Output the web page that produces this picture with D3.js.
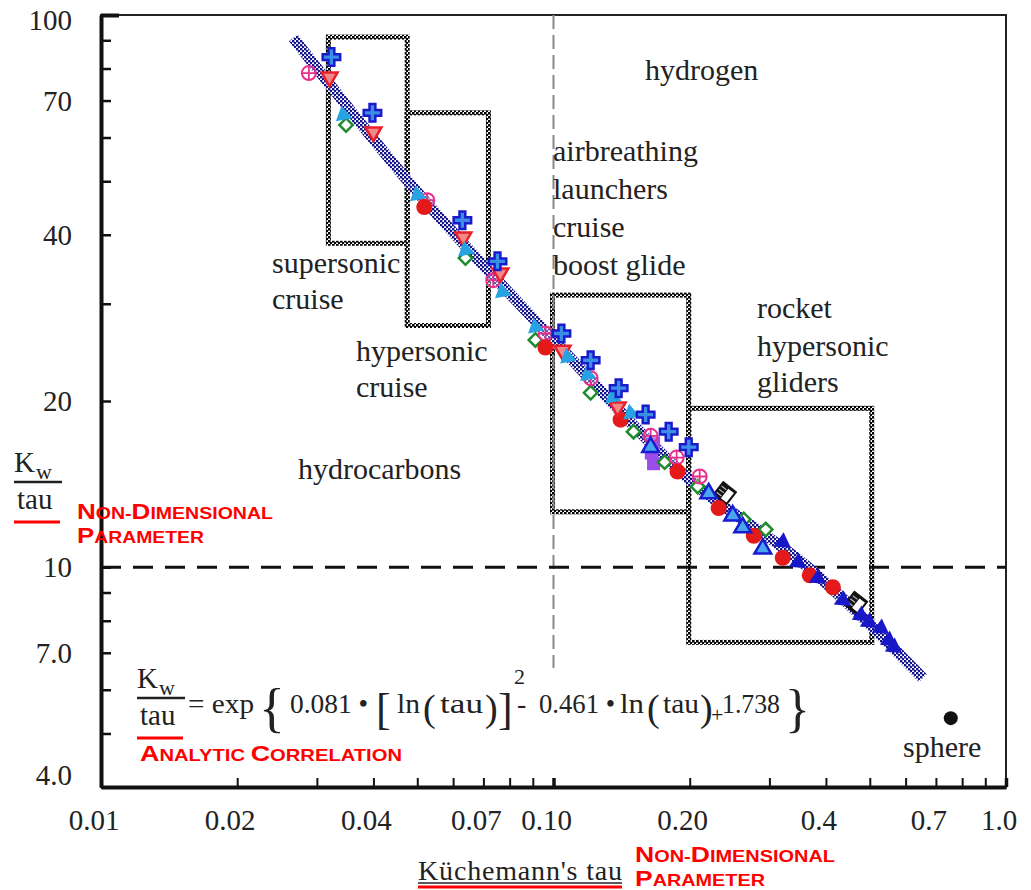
<!DOCTYPE html>
<html>
<head>
<meta charset="UTF-8">
<title>Kw/tau vs Küchemann's tau</title>
<script src="https://d3js.org/d3.v7.min.js"></script>
<style>
  body { margin: 0; background: #fff; }
  svg { display: block; }
  .serif { font-family: "Liberation Serif", "Times New Roman", serif; fill: #222; }
  .red { font-family: "Liberation Sans", Arial, sans-serif; font-weight: bold; fill: #f00; }
</style>
</head>
<body>
<div id="chart"></div>
<script>
// axis ticks
const xMinor = [0.01,0.02,0.03,0.04,0.05,0.06,0.07,0.08,0.09,0.1,0.2,0.3,0.4,0.5,0.6,0.7,0.8,0.9,1.0];
const xTickVals = [0.01,0.02,0.04,0.07,0.1,0.2,0.4,0.7,1.0];
const xTickLabels = ["0.01","0.02","0.04","0.07","0.10","0.20","0.4","0.7","1.0"];
const yMinor = [4,5,6,7,8,9,10,20,30,40,50,60,70,80,90,100];
const yTickVals = [100,70,40,20,10,7,4];
const yTickLabels = ["100","70","40","20","10","7.0","4.0"];

// correlation band [tau, Kw/tau]
const corrLine = [[0.0266,90.9],[0.0475,50.2],[0.1,25.8],[0.2,14.4],[0.365,10.0],[0.655,6.3]];

// vehicle data [tau, Kw/tau]
const blueCross = [[0.0323,83.9],[0.0398,66.5],[0.0629,42.5],[0.0752,35.8],[0.1041,26.5],[0.1208,23.7],[0.1393,21.1],[0.1598,18.9],[0.1797,17.6],[0.199,16.5]];
const pinkTriDown = [[0.032,77.2],[0.040,61.4],[0.0632,39.6],[0.0763,34.1],[0.1047,24.7],[0.1386,19.5]];
const pinkCirclePlus = [[0.0288,78.5],[0.0526,46.2],[0.0736,33.1],[0.096,26.5],[0.1208,22.0],[0.1639,17.3],[0.1871,15.8],[0.2104,14.6]];
const greenDiamond = [[0.0348,63.2],[0.0639,36.3],[0.0912,25.8],[0.1208,20.7],[0.1503,17.6],[0.176,15.5],[0.2083,14.0],[0.2633,12.2],[0.2944,11.7]];
const cyanTri = [[0.0343,65.9],[0.05,47.2],[0.0639,37.5],[0.0771,31.5],[0.0912,27.2],[0.1074,24.0],[0.1189,22.3],[0.1351,20.3],[0.1481,19.0]];
const redCircle = [[0.0518,44.9],[0.096,25.0],[0.1407,18.5],[0.188,14.9],[0.2317,12.8],[0.2771,11.4],[0.3211,10.4],[0.3684,9.67],[0.4144,9.2]];
const purpleSquare = [[0.1664,16.8],[0.1645,16.1],[0.1664,15.4]];
const blueTriUp = [[0.1639,16.5],[0.2203,13.6],[0.2489,12.4],[0.2619,11.8],[0.2901,10.8]];
const navyTri = [[0.3211,11.1],[0.3467,10.2],[0.3837,9.55],[0.4359,8.71],[0.4777,8.18],[0.4976,7.95],[0.5292,7.75],[0.5511,7.37],[0.5652,7.16]];
const blackSquare = [[0.2389,13.6],[0.4657,8.61]];
const sphere = [[0.755,5.33]];

// regions [tauMin, tauMax, kMin, kMax]
const regionBoxes = [[0.0318,0.0475,38.6,91.2],[0.0475,0.0718,27.4,66.5],[0.0995,0.199,12.6,31.1],[0.199,0.505,7.31,19.4]];

const W = 1031, H = 890;
const svg = d3.select("#chart").append("svg").attr("width", W).attr("height", H);

const x = d3.scaleLog().domain([0.01, 1]).range([101, 1006]);
const y = d3.scaleLog().domain([4, 100]).range([787, 15]);

const defs = svg.append("defs");
const hb = defs.append("pattern").attr("id", "hatchBlue").attr("patternUnits", "userSpaceOnUse").attr("width", 4).attr("height", 4);
hb.append("rect").attr("width", 4).attr("height", 4).attr("fill", "#fff");
hb.append("rect").attr("width", 2.4).attr("height", 2.4).attr("fill", "#14148c");
hb.append("rect").attr("x", 2).attr("y", 2).attr("width", 2.4).attr("height", 2.4).attr("fill", "#14148c");
const cb = defs.append("pattern").attr("id", "checkBlack").attr("patternUnits", "userSpaceOnUse").attr("width", 4).attr("height", 4);
cb.append("rect").attr("width", 4).attr("height", 4).attr("fill", "#fff");
cb.append("rect").attr("width", 2.6).attr("height", 2.6).attr("fill", "#000");
cb.append("rect").attr("x", 2).attr("y", 2).attr("width", 2.6).attr("height", 2.6).attr("fill", "#000");

// frame
svg.append("rect").attr("x", 101).attr("y", 15).attr("width", 905).attr("height", 772)
  .attr("fill", "none").attr("stroke", "#222").attr("stroke-width", 2);

// regions
svg.append("g").selectAll("rect").data(regionBoxes).join("rect")
  .attr("x", d => x(d[0])).attr("y", d => y(d[3]))
  .attr("width", d => x(d[1]) - x(d[0])).attr("height", d => y(d[2]) - y(d[3]))
  .attr("fill", "none").attr("stroke", "url(#checkBlack)").attr("stroke-width", 5);

// reference lines
svg.append("line").attr("x1", x(0.1)).attr("x2", x(0.1)).attr("y1", 15).attr("y2", 668)
  .attr("stroke", "#888").attr("stroke-width", 2).attr("stroke-dasharray", "14,6");
svg.append("line").attr("x1", 101).attr("x2", 1006).attr("y1", y(10)).attr("y2", y(10))
  .attr("stroke", "#111").attr("stroke-width", 3).attr("stroke-dasharray", "20,12");

// correlation band
svg.append("path").datum(corrLine)
  .attr("d", d3.line().x(d => x(d[0])).y(d => y(d[1])).curve(d3.curveMonotoneX))
  .attr("fill", "none").attr("stroke", "url(#hatchBlue)").attr("stroke-width", 11);

// axes (ticks point inwards)
svg.append("g").attr("transform", "translate(101,0)")
  .call(d3.axisLeft(y).tickValues(yMinor).tickSizeInner(-10).tickSizeOuter(0).tickFormat(""))
  .call(g => g.select(".domain").attr("stroke", "#111").attr("stroke-width", 4))
  .call(g => g.selectAll(".tick line").attr("stroke", "#111").attr("stroke-width", d => d === 100 ? 4 : 2.5)
    .attr("x2", d => d === 100 ? 18 : 10));
svg.append("g").attr("transform", "translate(0,787)")
  .call(d3.axisBottom(x).tickValues(xMinor).tickSizeInner(-9).tickSizeOuter(0).tickFormat(""))
  .call(g => g.select(".domain").attr("stroke", "#111").attr("stroke-width", 4))
  .call(g => g.selectAll(".tick line").attr("stroke", "#111").attr("stroke-width", d => d === 0.1 || d === 1 ? 3.5 : 2));

// tick labels
svg.append("g").selectAll("text").data(yTickVals).join("text")
  .attr("class", "serif").attr("font-size", 29).attr("text-anchor", "end")
  .attr("x", 72).attr("y", d => y(d) + (d === 100 ? 5 : d === 4 ? -12 : 0)).attr("dy", "0.35em")
  .text((d, i) => yTickLabels[i]);
svg.append("g").selectAll("text").data(xTickVals).join("text")
  .attr("class", "serif").attr("font-size", 29).attr("text-anchor", "middle")
  .attr("x", d => x(d) - 7).attr("y", 830)
  .text((d, i) => xTickLabels[i]);

// markers
function symbols(data, type, size, rot, fill, stroke, sw) {
  svg.append("g").selectAll("path").data(data).join("path")
    .attr("d", d3.symbol(type, size))
    .attr("transform", d => `translate(${x(d[0])},${y(d[1])}) rotate(${rot})`)
    .attr("fill", fill).attr("stroke", stroke).attr("stroke-width", sw);
}

const bs = svg.append("g").selectAll("g").data(blackSquare).join("g")
  .attr("transform", d => `translate(${x(d[0])},${y(d[1])}) rotate(38)`);
bs.append("rect").attr("x", -9).attr("y", -9).attr("width", 18).attr("height", 18).attr("fill", "#111");
bs.append("rect").attr("x", 0).attr("y", -6).attr("width", 7).attr("height", 12).attr("fill", "#fff");
[-4, 0, 4].forEach(o => bs.append("line").attr("x1", -7).attr("x2", -1).attr("y1", o).attr("y2", o)
  .attr("stroke", "#bbb").attr("stroke-width", 1.2));

symbols(purpleSquare, d3.symbolSquare, 170, 0, "#9b4dea", "none", 0);
symbols(greenDiamond, d3.symbolSquare, 90, 45, "#fff", "#1e8c2e", 2.5);

const cp = svg.append("g").selectAll("g").data(pinkCirclePlus).join("g")
  .attr("transform", d => `translate(${x(d[0])},${y(d[1])})`);
cp.append("circle").attr("r", 7).attr("fill", "#fff").attr("fill-opacity", 0.3).attr("stroke", "#e8308a").attr("stroke-width", 2);
cp.append("path").attr("d", "M-7,0H7M0,-7V7").attr("stroke", "#e8308a").attr("stroke-width", 1.8);

svg.append("g").selectAll("circle").data(redCircle).join("circle")
  .attr("cx", d => x(d[0])).attr("cy", d => y(d[1])).attr("r", 8).attr("fill", "#e41a1a");
symbols(pinkTriDown, d3.symbolTriangle, 110, 180, "#f08a8a", "#e8202a", 2.5);
symbols(cyanTri, d3.symbolTriangle, 120, 110, "#27a3e3", "none", 0);
symbols(blueTriUp, d3.symbolTriangle, 120, 0, "#48a6ee", "#1a1ad0", 2.5);
symbols(navyTri, d3.symbolTriangle, 130, 125, "#1818c8", "none", 0);
symbols(blueCross, d3.symbolCross, 170, 0, "#3a8ee6", "#1a1acb", 2.5);

svg.append("g").selectAll("circle").data(sphere).join("circle")
  .attr("cx", d => x(d[0])).attr("cy", d => y(d[1])).attr("r", 7).attr("fill", "#111");

// region labels
const labels = [
  ["hydrogen", 645, 80], ["airbreathing", 553, 161], ["launchers", 553, 199], ["cruise", 553, 237],
  ["boost glide", 553, 275], ["supersonic", 272, 273], ["cruise", 272, 309], ["hypersonic", 356, 361],
  ["cruise", 356, 397], ["rocket", 757, 318], ["hypersonic", 757, 356], ["gliders", 757, 392],
  ["hydrocarbons", 298, 479], ["sphere", 903, 757]
];
svg.append("g").selectAll("text").data(labels).join("text")
  .attr("class", "serif").attr("font-size", 30)
  .attr("x", d => d[1]).attr("y", d => d[2]).text(d => d[0]);

// Kw / tau fractions
function fraction(g, x0, yb, w) {
  g.append("text").attr("class", "serif").attr("font-size", 29).attr("x", x0).attr("y", yb).text("K");
  g.append("text").attr("class", "serif").attr("font-size", 22).attr("x", x0 + 22).attr("y", yb + 7).text("w");
  g.append("line").attr("x1", x0).attr("x2", x0 + w).attr("y1", yb + 10).attr("y2", yb + 10).attr("stroke", "#222").attr("stroke-width", 2.5);
  g.append("text").attr("class", "serif").attr("font-size", 29).attr("x", x0 + 3).attr("y", yb + 37).text("tau");
  g.append("line").attr("x1", x0).attr("x2", x0 + w - 2).attr("y1", yb + 50).attr("y2", yb + 50).attr("stroke", "#f00").attr("stroke-width", 3);
}
fraction(svg, 14, 472, 48);
fraction(svg, 137, 688, 48);

// red small-caps notes
function redNote(xp, yp, words, width) {
  const t = svg.append("text").attr("class", "red").attr("x", xp).attr("y", yp)
    .attr("textLength", width).attr("lengthAdjust", "spacingAndGlyphs");
  words.forEach(w => {
    t.append("tspan").attr("font-size", 22).text(w[0]);
    t.append("tspan").attr("font-size", 16.5).text(w.slice(1).toUpperCase());
  });
}
redNote(77, 519, ["Non-", "Dimensional"], 196);
redNote(77, 543, ["Parameter"], 127);
redNote(140, 761, ["Analytic ", "Correlation"], 262);
redNote(635, 862, ["Non-", "Dimensional"], 200);
redNote(635, 886, ["Parameter"], 130);

// formula pieces [text, x, baseline, size, width]
const parts = [
  ["= exp", 188, 713, 28, 66], ["{", 259, 726, 54, 0], ["0.081 •", 290, 713, 28, 78], ["[", 376, 724, 44, 0],
  ["ln", 397, 713, 28, 23], ["(", 423, 721, 38, 0], ["tau", 440, 713, 28, 43], [")", 485, 721, 38, 0],
  ["]", 498, 724, 44, 0], ["2", 514, 684, 22, 0], ["-", 517, 713, 28, 0], ["0.461 •", 539, 713, 28, 76],
  ["ln", 620, 713, 28, 24], ["(", 647, 721, 38, 0], ["tau", 663, 713, 28, 36], [")", 700, 721, 38, 0],
  ["+", 711, 722, 22, 0], ["1.738", 722, 713, 28, 58], ["}", 785, 726, 52, 0]
];
svg.append("g").selectAll("text").data(parts).join("text")
  .attr("class", "serif").attr("x", d => d[1]).attr("y", d => d[2]).attr("font-size", d => d[3])
  .each(function(d) { if (d[4]) d3.select(this).attr("textLength", d[4]).attr("lengthAdjust", "spacingAndGlyphs"); })
  .text(d => d[0]);

// x axis label
svg.append("text").attr("class", "serif").attr("font-size", 28).attr("x", 418).attr("y", 880)
  .attr("textLength", 204).text("Küchemann's tau");
svg.append("line").attr("x1", 418).attr("x2", 622).attr("y1", 883).attr("y2", 883).attr("stroke", "#222").attr("stroke-width", 1.5);
svg.append("line").attr("x1", 418).attr("x2", 622).attr("y1", 887).attr("y2", 887).attr("stroke", "#f00").attr("stroke-width", 3);
</script>
</body>
</html>
